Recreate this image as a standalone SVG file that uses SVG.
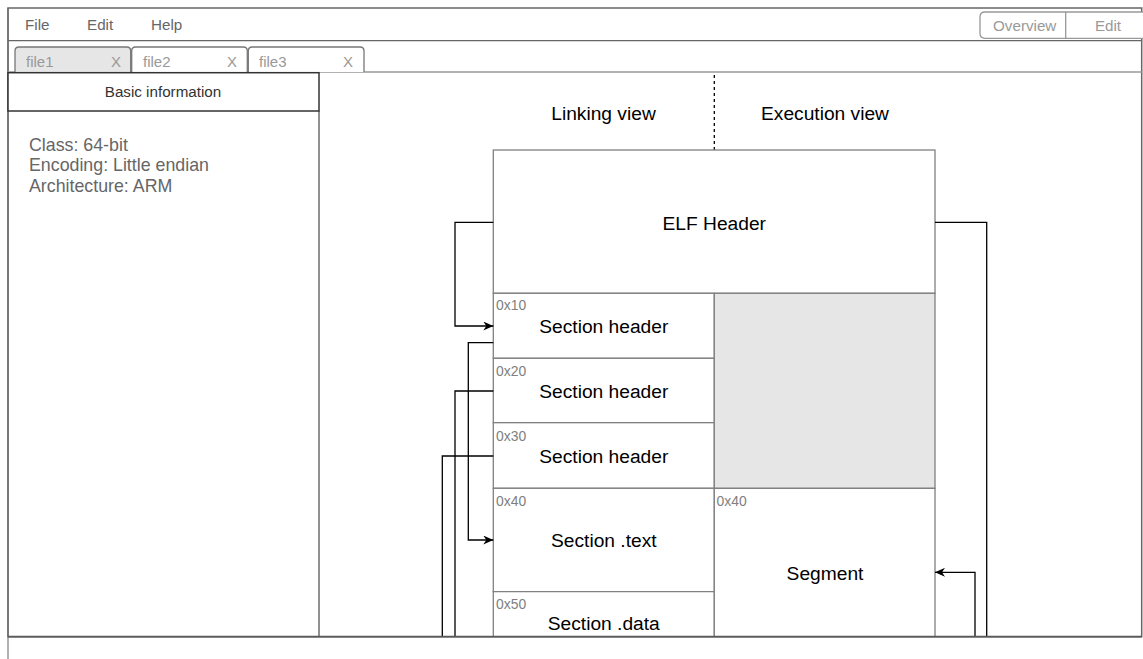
<svg xmlns="http://www.w3.org/2000/svg" width="1143" height="659" viewBox="0 0 1143 659">
<defs>
<style>
text{font-family:"Liberation Sans",Arial,sans-serif}
.menu{font-size:15.2px;fill:#666}
.tab{font-size:15px;fill:#999}
.info{font-size:17.8px;fill:#666}
.main{font-size:19.2px;fill:#000}
.addr{font-size:13.9px;fill:#808080}
.box{fill:#fff;stroke:#808080;stroke-width:1.3}
.frame{fill:none;stroke:#666;stroke-width:1.5}
.conn{fill:none;stroke:#000;stroke-width:1.3}
</style>
<marker id="arr" markerUnits="userSpaceOnUse" markerWidth="11" markerHeight="9" refX="10" refY="4.5" orient="auto">
<path d="M0,0 L10,4.5 L0,9 L3,4.5 Z" fill="#000"/>
</marker>
</defs>
<rect width="1143" height="659" fill="#fff"/>
<g id="window">
<line x1="8" y1="8" x2="8" y2="659" stroke="#999" stroke-width="1.5"/>
<path class="frame" d="M8,636.7 L8,8 L1141.7,8 L1141.7,636.7 Z"/>
<line x1="8" y1="40.7" x2="1141.7" y2="40.7" stroke="#666" stroke-width="1.3"/>
<line x1="8" y1="72" x2="1141.7" y2="72" stroke="#999" stroke-width="1.3"/>
</g>
<g id="menu">
<text class="menu" x="25" y="30">File</text>
<text class="menu" x="87" y="30">Edit</text>
<text class="menu" x="151" y="30">Help</text>
</g>
<g id="view-buttons">
<path d="M1150,12 L985,12 Q980,12 980,17 L980,33.3 Q980,38.3 985,38.3 L1150,38.3" fill="#fff" stroke="#999" stroke-width="1.3"/>
<line x1="1065.7" y1="12" x2="1065.7" y2="38.3" stroke="#999" stroke-width="1.3"/>
<text class="menu" x="1024.7" y="30.5" text-anchor="middle" style="fill:#999">Overview</text>
<text class="menu" x="1108" y="30.5" text-anchor="middle" style="fill:#999">Edit</text>
</g>
<g id="tab1">
<path d="M15,72 L15,51 Q15,47 19,47 L126.7,47 Q130.7,47 130.7,51 L130.7,72" fill="#e6e6e6" stroke="#777" stroke-width="1.3"/>
<text class="tab" x="26" y="66.5">file1</text>
<text class="tab" x="111" y="66.5">X</text>
</g>
<g id="tab2">
<path d="M131.7,72 L131.7,51 Q131.7,47 135.7,47 L243.3,47 Q247.3,47 247.3,51 L247.3,72" fill="#fff" stroke="#777" stroke-width="1.3"/>
<text class="tab" x="143" y="66.5">file2</text>
<text class="tab" x="227" y="66.5">X</text>
</g>
<g id="tab3">
<path d="M248.3,72 L248.3,51 Q248.3,47 252.3,47 L360,47 Q364,47 364,51 L364,72" fill="#fff" stroke="#777" stroke-width="1.3"/>
<text class="tab" x="259" y="66.5">file3</text>
<text class="tab" x="343" y="66.5">X</text>
</g>
<g id="basic-info">
<line x1="319" y1="111" x2="319" y2="636.7" stroke="#555" stroke-width="1.3"/>
<rect x="8" y="72.7" width="311" height="38.3" fill="#fff" stroke="#333" stroke-width="1.5"/>
<text x="163" y="96.7" text-anchor="middle" style="font-size:15.2px;fill:#333">Basic information</text>
<text class="info" x="29" y="150.7">Class: 64-bit</text>
<text class="info" x="29" y="171">Encoding: Little endian</text>
<text class="info" x="29" y="191.7">Architecture: ARM</text>
</g>
<g id="view-labels">
<line x1="714.3" y1="75" x2="714.3" y2="150" stroke="#000" stroke-width="1.3" stroke-dasharray="3,3"/>
<text class="main" x="603.5" y="120.3" text-anchor="middle">Linking view</text>
<text class="main" x="825" y="120.3" text-anchor="middle">Execution view</text>
</g>
<g id="elf-header">
<rect class="box" x="493.3" y="150" width="441.7" height="143.3"/>
<text class="main" x="714.3" y="229.6" text-anchor="middle">ELF Header</text>
</g>
<g id="sh1">
<rect class="box" x="493.3" y="293.3" width="221" height="65"/>
<text class="addr" x="496" y="310.3">0x10</text>
<text class="main" x="603.8" y="333" text-anchor="middle">Section header</text>
</g>
<g id="sh2">
<rect class="box" x="493.3" y="358.3" width="221" height="64.4"/>
<text class="addr" x="496" y="375.5">0x20</text>
<text class="main" x="603.8" y="398" text-anchor="middle">Section header</text>
</g>
<g id="sh3">
<rect class="box" x="493.3" y="422.7" width="221" height="65.6"/>
<text class="addr" x="496" y="440.7">0x30</text>
<text class="main" x="603.8" y="463" text-anchor="middle">Section header</text>
</g>
<g id="sec-text">
<rect class="box" x="493.3" y="488.3" width="221" height="103.4"/>
<text class="addr" x="496" y="506">0x40</text>
<text class="main" x="603.8" y="547" text-anchor="middle">Section .text</text>
</g>
<g id="sec-data">
<path class="box" d="M493.3,636.7 L493.3,591.7 L714.3,591.7 L714.3,636.7"/>
<text class="addr" x="496" y="608.5">0x50</text>
<text class="main" x="603.8" y="629.6" text-anchor="middle">Section .data</text>
</g>
<g id="gap">
<rect x="714.3" y="293.3" width="220.7" height="195" fill="#e6e6e6" stroke="#808080" stroke-width="1.3"/>
</g>
<g id="segment">
<path class="box" d="M714.3,636.7 L714.3,488.3 L935,488.3 L935,636.7"/>
<text class="addr" x="716.5" y="506">0x40</text>
<text class="main" x="825" y="580.3" text-anchor="middle">Segment</text>
</g>
<g id="connectors">
<path class="conn" d="M493.3,222.3 L455,222.3 L455,326 L493.3,326" marker-end="url(#arr)"/>
<path class="conn" d="M493.3,342.7 L468.3,342.7 L468.3,540 L493.3,540" marker-end="url(#arr)"/>
<path class="conn" d="M493.3,391 L455,391 L455,636.7"/>
<path class="conn" d="M493.3,456 L442.3,456 L442.3,636.7"/>
<path class="conn" d="M935,222.3 L986.7,222.3 L986.7,636.7"/>
<path class="conn" d="M975,636.7 L975,572.3 L935,572.3" marker-end="url(#arr)"/>
</g>
<line x1="8" y1="636.7" x2="1141.7" y2="636.7" stroke="#5a5a5a" stroke-width="1.8"/>
</svg>
